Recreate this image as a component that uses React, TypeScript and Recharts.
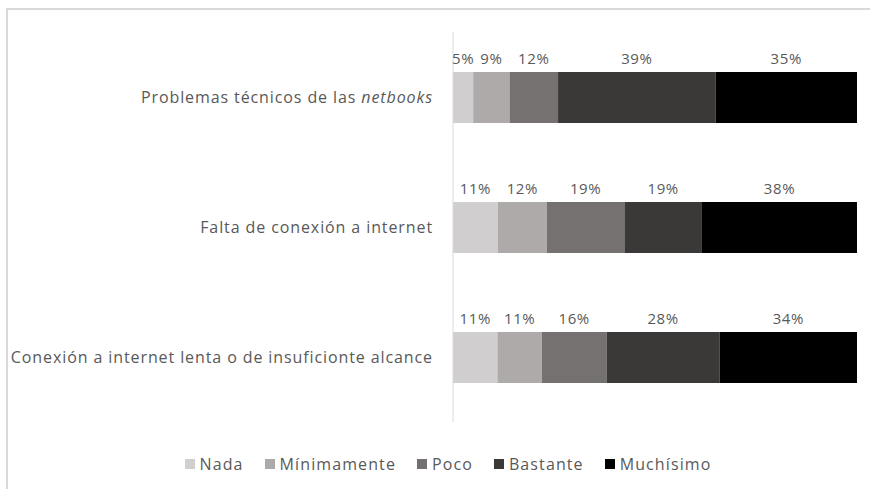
import { BarChart, Bar, XAxis, YAxis, Legend, LabelList } from 'recharts';

const categories = [
  'Problemas técnicos de las netbooks',
  'Falta de conexión a internet',
  'Conexión a internet lenta o de insuficionte alcance',
];
const nada = [5, 11, 11];
const minimamente = [9, 12, 11];
const poco = [12, 19, 16];
const bastante = [39, 19, 28];
const muchisimo = [35, 38, 34];

const seriesNames = ['Nada', 'Mínimamente', 'Poco', 'Bastante', 'Muchísimo'];
const seriesValues = [nada, minimamente, poco, bastante, muchisimo];
const seriesColors = ['#d0cece', '#aeaaaa', '#767171', '#3b3838', '#000000'];
const keys = ['nada', 'minimamente', 'poco', 'bastante', 'muchisimo'];

const data = categories.map((name, i) => {
  const row: any = { name };
  keys.forEach((k, s) => {
    row[k] = seriesValues[s][i];
  });
  return row;
});

const FONT = '"Open Sans", sans-serif';
const TEXT = '#595959';

const CategoryTick = ({ x, y, payload }: any) => {
  const label: string = payload.value;
  const italicWord = 'netbooks';
  const idx = label.indexOf(italicWord);
  return (
    <text
      x={x - 12}
      y={y}
      dy={6}
      textAnchor="end"
      fill={TEXT}
      fontSize={16}
      fontFamily={FONT}
      letterSpacing={0.9}
    >
      {idx >= 0 ? (
        <>
          <tspan>{label.slice(0, idx)}</tspan>
          <tspan fontStyle="italic">{italicWord}</tspan>
        </>
      ) : (
        label
      )}
    </text>
  );
};

const makeLabel = (s: number) => (props: any) => {
  const { x, y, width, index } = props;
  return (
    <text
      x={Number(x) + Number(width) / 2}
      y={Number(y) - 8}
      textAnchor="middle"
      fill={TEXT}
      fontSize={15}
      fontFamily={FONT}
      letterSpacing={0.6}
    >
      {`${seriesValues[s][index]}%`}
    </text>
  );
};

const CustomLegend = () => (
  <div
    style={{
      display: 'flex',
      justifyContent: 'center',
      gap: 21,
      fontFamily: FONT,
      fontSize: 16,
      lineHeight: '20px',
      letterSpacing: 1.1,
      color: TEXT,
      paddingLeft: 26,
    }}
  >
    {seriesNames.map((n, i) => (
      <div key={n} style={{ display: 'flex', alignItems: 'center' }}>
        <span
          style={{ display: 'inline-block', width: 10, height: 10, background: seriesColors[i], marginRight: 5 }}
        />
        <span>{n}</span>
      </div>
    ))}
  </div>
);

export default function App() {
  return (
    <div style={{ position: 'absolute', left: 0, top: 0, width: 870, height: 489, background: '#fff' }}>
      <div
        style={{
          position: 'absolute',
          left: 6,
          top: 8,
          right: 0,
          bottom: 0,
          borderTop: '2px solid #d9d9d9',
          borderLeft: '2px solid #d9d9d9',
        }}
      />
      <div style={{ position: 'absolute', left: 0, top: 0 }}>
        <BarChart
          width={870}
          height={489}
          data={data}
          layout="vertical"
          stackOffset="expand"
          margin={{ top: 32, right: 13, bottom: 47, left: 0 }}
        >
          <XAxis type="number" hide domain={[0, 1]} />
          <YAxis
            type="category"
            dataKey="name"
            width={453}
            axisLine={{ stroke: '#d9d9d9' }}
            tickLine={false}
            tick={<CategoryTick />}
          />
          <Legend
            verticalAlign="bottom"
            content={<CustomLegend />}
            wrapperStyle={{ bottom: 15, left: 0, width: 870 }}
          />
          {keys.map((k, s) => (
            <Bar key={k} dataKey={k} name={seriesNames[s]} stackId="a" fill={seriesColors[s]} barSize={51} isAnimationActive={false}>
              <LabelList dataKey={k} content={makeLabel(s)} />
            </Bar>
          ))}
        </BarChart>
      </div>
    </div>
  );
}
